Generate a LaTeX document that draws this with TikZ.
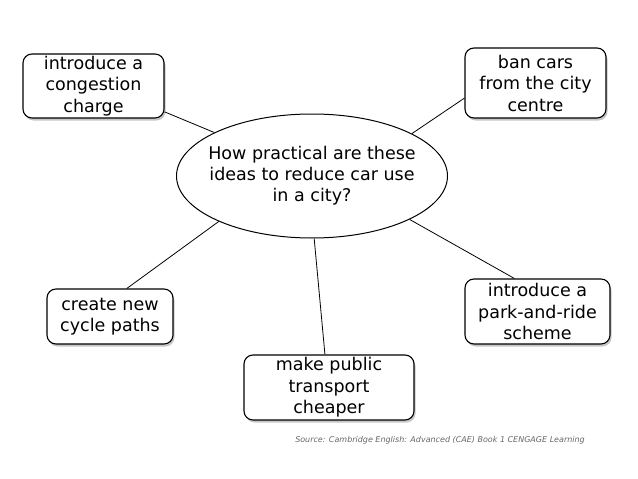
\documentclass[tikz,border=0pt]{standalone}
\usepackage{fontspec}
\setmainfont{DejaVu Sans}
\usetikzlibrary{shapes.geometric,shadows}

\begin{document}
\begin{tikzpicture}[x=1pt,y=-1pt,
  idea/.style={draw, fill=white, rounded corners=9pt, align=center, line width=1.1pt,
    drop shadow={shadow xshift=1.5pt, shadow yshift=-2.5pt, opacity=0.45},
    font=\fontsize{17.5}{21.5}\selectfont, inner sep=0pt},
  link/.style={line width=0.8pt}]
  \useasboundingbox (0,0) rectangle (638,479);
  % centre question
  \node[ellipse, draw, line width=1pt, inner xsep=-15pt, inner ysep=0pt,
    minimum width=271pt, minimum height=124pt, align=center,
    font=\fontsize{17.5}{21}\selectfont] (question) at (312,176)
    {How practical are these\\ideas to reduce car use\\in a city?};
  % ideas round it
  \node[idea, minimum width=141pt, minimum height=64pt] (congestion) at (93.5,86) {introduce a\\congestion\\charge};
  \node[idea, minimum width=141pt, minimum height=70pt] (bancars) at (535.5,83) {ban cars\\from the city\\centre};
  \node[idea, minimum width=126pt, minimum height=55pt] (cycle) at (110,316.5) {create new\\cycle paths};
  \node[idea, minimum width=145pt, minimum height=65pt] (parkride) at (537.5,311.5) {introduce a\\park-and-ride\\scheme};
  \node[idea, minimum width=170pt, minimum height=65pt] (transport) at (329,387.5) {make public\\transport\\cheaper};
  \draw[link] (congestion.-20) -- (question.156);
  \draw[link] (bancars.192) -- (question.23);
  \draw[link] (cycle.59) -- (question.206);
  \draw[link] (parkride.125) -- (question.-24);
  \draw[link] (transport.97) -- (question.-88);
  \node[font=\fontsize{8}{10}\selectfont\itshape, text=black!60] (source) at (440,440)
    {Source: Cambridge English: Advanced (CAE) Book 1 CENGAGE Learning};
\end{tikzpicture}
\end{document}
